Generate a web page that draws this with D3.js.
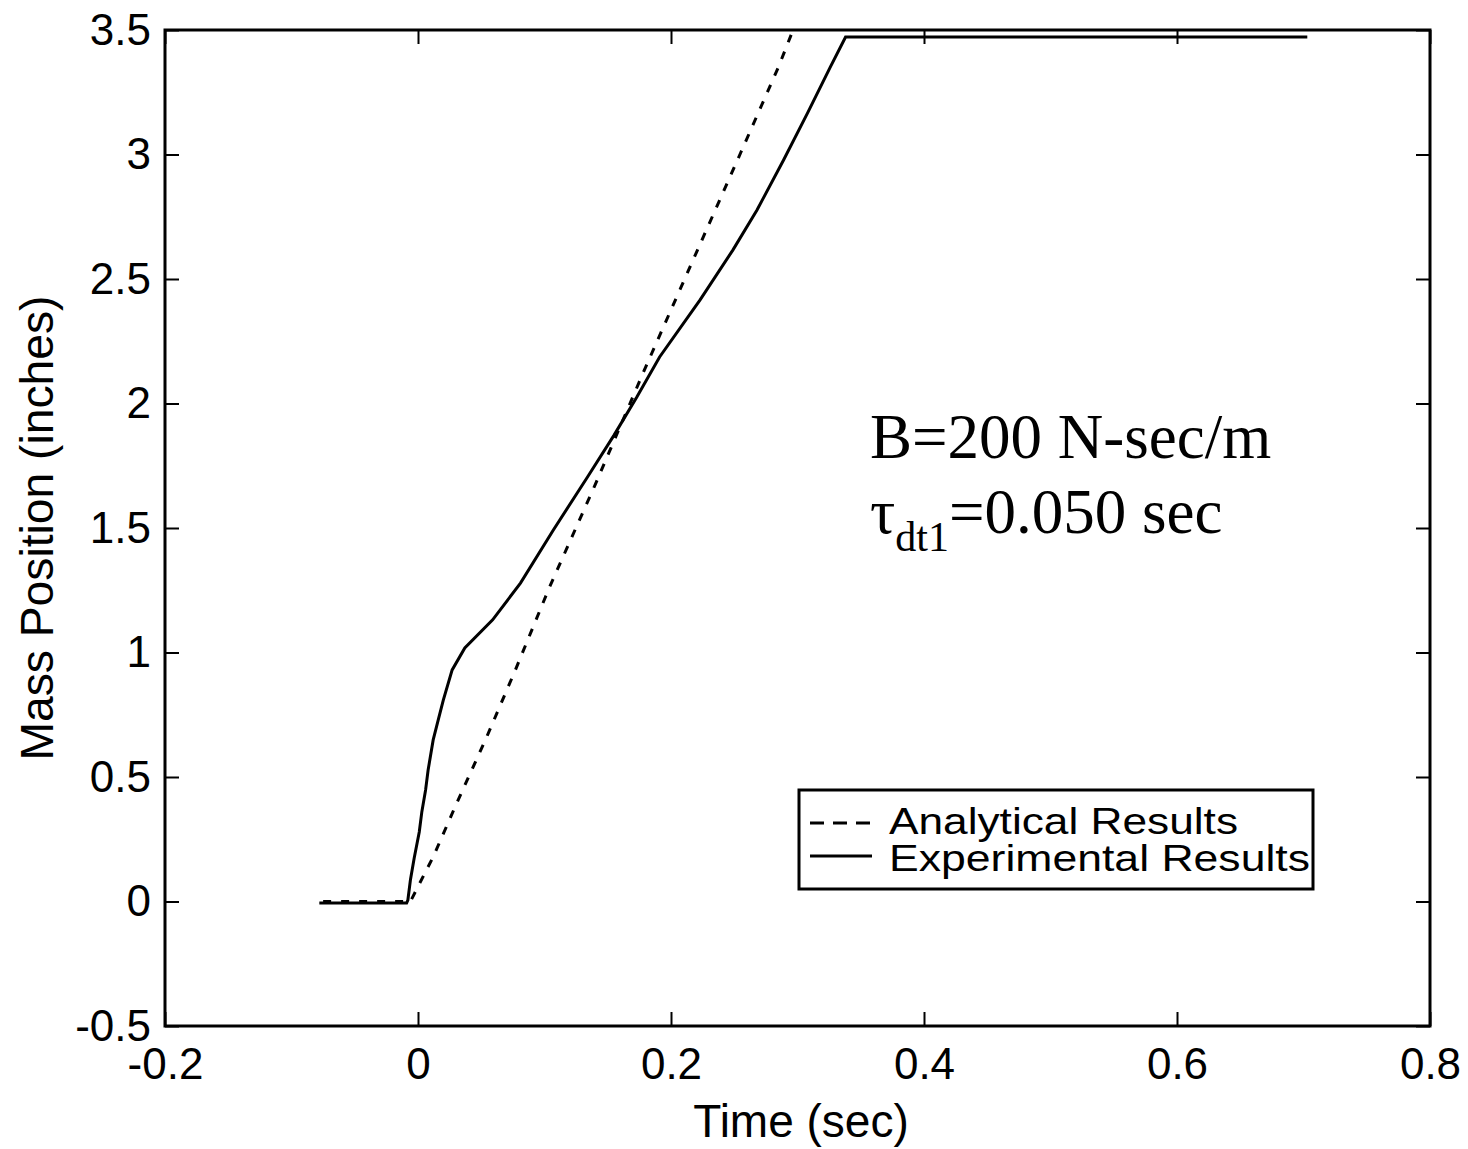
<!DOCTYPE html>
<html>
<head>
<meta charset="utf-8">
<script src="https://cdn.jsdelivr.net/npm/d3@7"></script>
<style>
  body { margin: 0; background: #fff; }
  svg { display: block; }
  text { font-family: "Liberation Sans", Arial, sans-serif; fill: #000; }
</style>
</head>
<body>
<svg id="chart" width="1468" height="1149"></svg>
<script>
// 軸の目盛り
var xTicks = [-0.2, 0, 0.2, 0.4, 0.6, 0.8];
var yTicks = [-0.5, 0, 0.5, 1, 1.5, 2, 2.5, 3, 3.5];

// 解析結果 (破線) : [時間, 位置]
var analyticalT = [-0.075, -0.006, -0.001, 0.012, 0.030, 0.054, 0.077, 0.104, 0.140, 0.179, 0.221, 0.255, 0.285, 0.2965];
var analyticalX = [0, 0, 0.050, 0.179, 0.388, 0.657, 0.930, 1.263, 1.673, 2.135, 2.617, 3.006, 3.352, 3.5];

// 実験結果 (実線)
var experimentalT = [-0.078, -0.009, -0.008, -0.006, -0.003, 0.001, 0.003, 0.006, 0.008, 0.012, 0.016, 0.020, 0.027, 0.037, 0.059, 0.081, 0.107, 0.134, 0.155, 0.173, 0.191, 0.223, 0.249, 0.268, 0.289, 0.308, 0.326, 0.338, 0.703];
var experimentalX = [-0.006, -0.006, 0.006, 0.086, 0.175, 0.279, 0.359, 0.448, 0.528, 0.649, 0.729, 0.809, 0.930, 1.018, 1.131, 1.279, 1.492, 1.705, 1.873, 2.026, 2.187, 2.416, 2.617, 2.777, 2.978, 3.167, 3.352, 3.472, 3.472];

var legendLabels = ["Analytical Results", "Experimental Results"];

var svg = d3.select("#chart");
// window.top と衝突するので名前を変える
var plotLeft = 165, plotRight = 1430, plotTop = 30, plotBottom = 1026;

var x = d3.scaleLinear().domain([-0.2, 0.8]).range([plotLeft, plotRight]);
var y = d3.scaleLinear().domain([-0.5, 3.5]).range([plotBottom, plotTop]);

svg.append("clipPath").attr("id", "clip")
  .append("rect")
  .attr("x", plotLeft).attr("y", plotTop)
  .attr("width", plotRight - plotLeft).attr("height", plotBottom - plotTop);

var fmt = function(d) { return String(d); };
var tickLen = 14;

// 目盛り (内向き)
var gx = svg.append("g").attr("transform", "translate(0," + plotBottom + ")")
  .call(d3.axisBottom(x).tickValues(xTicks).tickSizeInner(-tickLen).tickSizeOuter(0).tickPadding(22).tickFormat(fmt));
var gy = svg.append("g").attr("transform", "translate(" + plotLeft + ",0)")
  .call(d3.axisLeft(y).tickValues(yTicks).tickSizeInner(-tickLen).tickSizeOuter(0).tickPadding(14).tickFormat(fmt));
var gt = svg.append("g").attr("transform", "translate(0," + plotTop + ")")
  .call(d3.axisTop(x).tickValues(xTicks).tickSizeInner(-tickLen).tickSizeOuter(0).tickFormat(""));
var gr = svg.append("g").attr("transform", "translate(" + plotRight + ",0)")
  .call(d3.axisRight(y).tickValues(yTicks).tickSizeInner(-tickLen).tickSizeOuter(0).tickFormat(""));

[gx, gy, gt, gr].forEach(function(g) {
  g.select(".domain").remove();
  g.selectAll(".tick line").attr("stroke", "#000").attr("stroke-width", 2);
  g.selectAll(".tick text")
    .style("font-family", "'Liberation Sans', Arial, sans-serif")
    .attr("font-size", 44).attr("fill", "#000");
});
gx.selectAll(".tick text").attr("dy", "0.71em");
gy.selectAll(".tick text").attr("dy", "0.32em");

// 枠
svg.append("rect")
  .attr("x", plotLeft).attr("y", plotTop)
  .attr("width", plotRight - plotLeft).attr("height", plotBottom - plotTop)
  .attr("fill", "none").attr("stroke", "#000").attr("stroke-width", 3);

var line = d3.line()
  .x(function(d) { return x(d[0]); })
  .y(function(d) { return y(d[1]); });

var plot = svg.append("g").attr("clip-path", "url(#clip)");

plot.append("path")
  .datum(d3.zip(analyticalT, analyticalX))
  .attr("d", line)
  .attr("fill", "none").attr("stroke", "#000").attr("stroke-width", 3)
  .attr("stroke-dasharray", "8,10");

plot.append("path")
  .datum(d3.zip(experimentalT, experimentalX))
  .attr("d", line)
  .attr("fill", "none").attr("stroke", "#000").attr("stroke-width", 3);

// 軸ラベル
svg.append("text")
  .attr("x", 801).attr("y", 1137)
  .attr("text-anchor", "middle").attr("font-size", 46)
  .text("Time (sec)");

svg.append("text")
  .attr("transform", "translate(53,528) rotate(-90)")
  .attr("text-anchor", "middle").attr("font-size", 46)
  .attr("textLength", 465).attr("lengthAdjust", "spacingAndGlyphs")
  .text("Mass Position (inches)");

// 注記
var serif = "'Liberation Serif', 'Times New Roman', serif";
svg.append("text")
  .attr("x", 870).attr("y", 458)
  .attr("font-size", 63).style("font-family", serif)
  .text("B=200 N-sec/m");
var t2 = svg.append("text")
  .attr("x", 870).attr("y", 533)
  .attr("font-size", 63).style("font-family", serif);
t2.append("tspan").text("τ");
t2.append("tspan").attr("font-size", 42).attr("dy", 18).text("dt1");
t2.append("tspan").attr("dy", -18).text("=0.050 sec");

// 凡例
var leg = svg.append("g");
leg.append("rect")
  .attr("x", 799).attr("y", 790).attr("width", 514).attr("height", 99)
  .attr("fill", "#fff").attr("stroke", "#000").attr("stroke-width", 3);
leg.append("line")
  .attr("x1", 810).attr("x2", 870).attr("y1", 823).attr("y2", 823)
  .attr("stroke", "#000").attr("stroke-width", 3).attr("stroke-dasharray", "14,9");
leg.append("line")
  .attr("x1", 810).attr("x2", 872).attr("y1", 856).attr("y2", 856)
  .attr("stroke", "#000").attr("stroke-width", 3);
leg.selectAll("text.lab")
  .data(legendLabels)
  .enter().append("text")
  .attr("class", "lab")
  .attr("x", 889)
  .attr("y", function(d, i) { return 834 + i * 37; })
  .attr("font-size", 37)
  .attr("textLength", function(d, i) { return i === 0 ? 349 : 421; })
  .attr("lengthAdjust", "spacingAndGlyphs")
  .text(function(d) { return d; });
</script>
</body>
</html>
